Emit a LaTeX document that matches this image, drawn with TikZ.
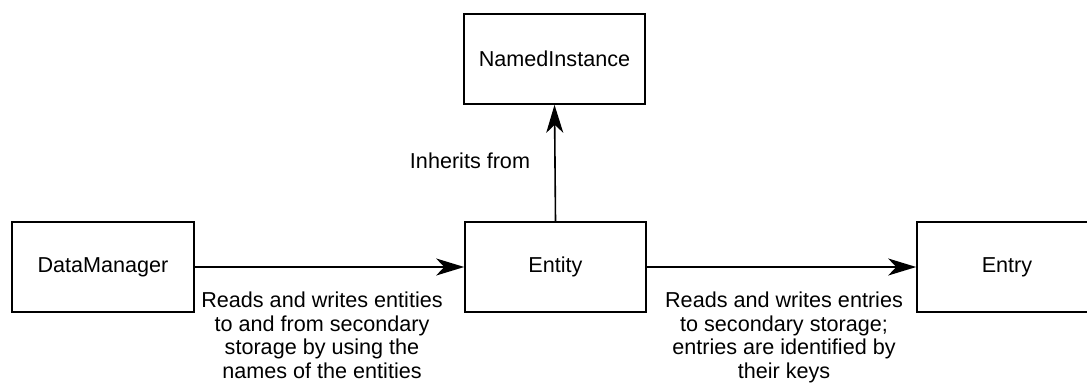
\documentclass[tikz,border=0pt]{standalone}
\usepackage{fontspec}
\setmainfont{Liberation Sans}
\usetikzlibrary{arrows.meta}
\begin{document}
\begin{tikzpicture}[x=1pt,y=-1pt,
  every node/.style={font=\fontsize{21.6}{23.5}\selectfont},
  classbox/.style={draw, line width=1.6pt, rectangle, minimum height=90pt, inner sep=0pt},
  relation/.style={line width=1.6pt, -{Stealth[length=28pt,width=17pt,inset=8pt]}},
  note/.style={inner sep=0pt, align=center}]
  \useasboundingbox (0,0) rectangle (1087,388);
  \begin{scope}
    \clip (0,0) rectangle (1087,388);
    % classes
    \node[classbox, minimum width=182pt] (dm) at (103,267) {DataManager};
    \node[classbox, minimum width=181pt] (entity) at (555.5,267) {Entity};
    \node[classbox, minimum width=181pt] (named) at (554.5,59) {NamedInstance};
    \node[classbox, minimum width=180pt] (entry) at (1007,267) {Entry};
    % relations
    \draw[relation] (dm.east) -- (entity.west);
    \draw[relation] (entity.east) -- (entry.west);
    \draw[relation] (entity.north) -- (named.south);
  \end{scope}
  % relation notes
  \node[note, anchor=base] (inh) at (470,168) {Inherits from};
  \node[note, anchor=north] (dmnote) at (322,292) {Reads and writes entities\\to and from secondary\\storage by using the\\names of the entities};
  \node[note, anchor=north] (entrynote) at (784,292) {Reads and writes entries\\to secondary storage;\\entries are identified by\\their keys};
\end{tikzpicture}
\end{document}
